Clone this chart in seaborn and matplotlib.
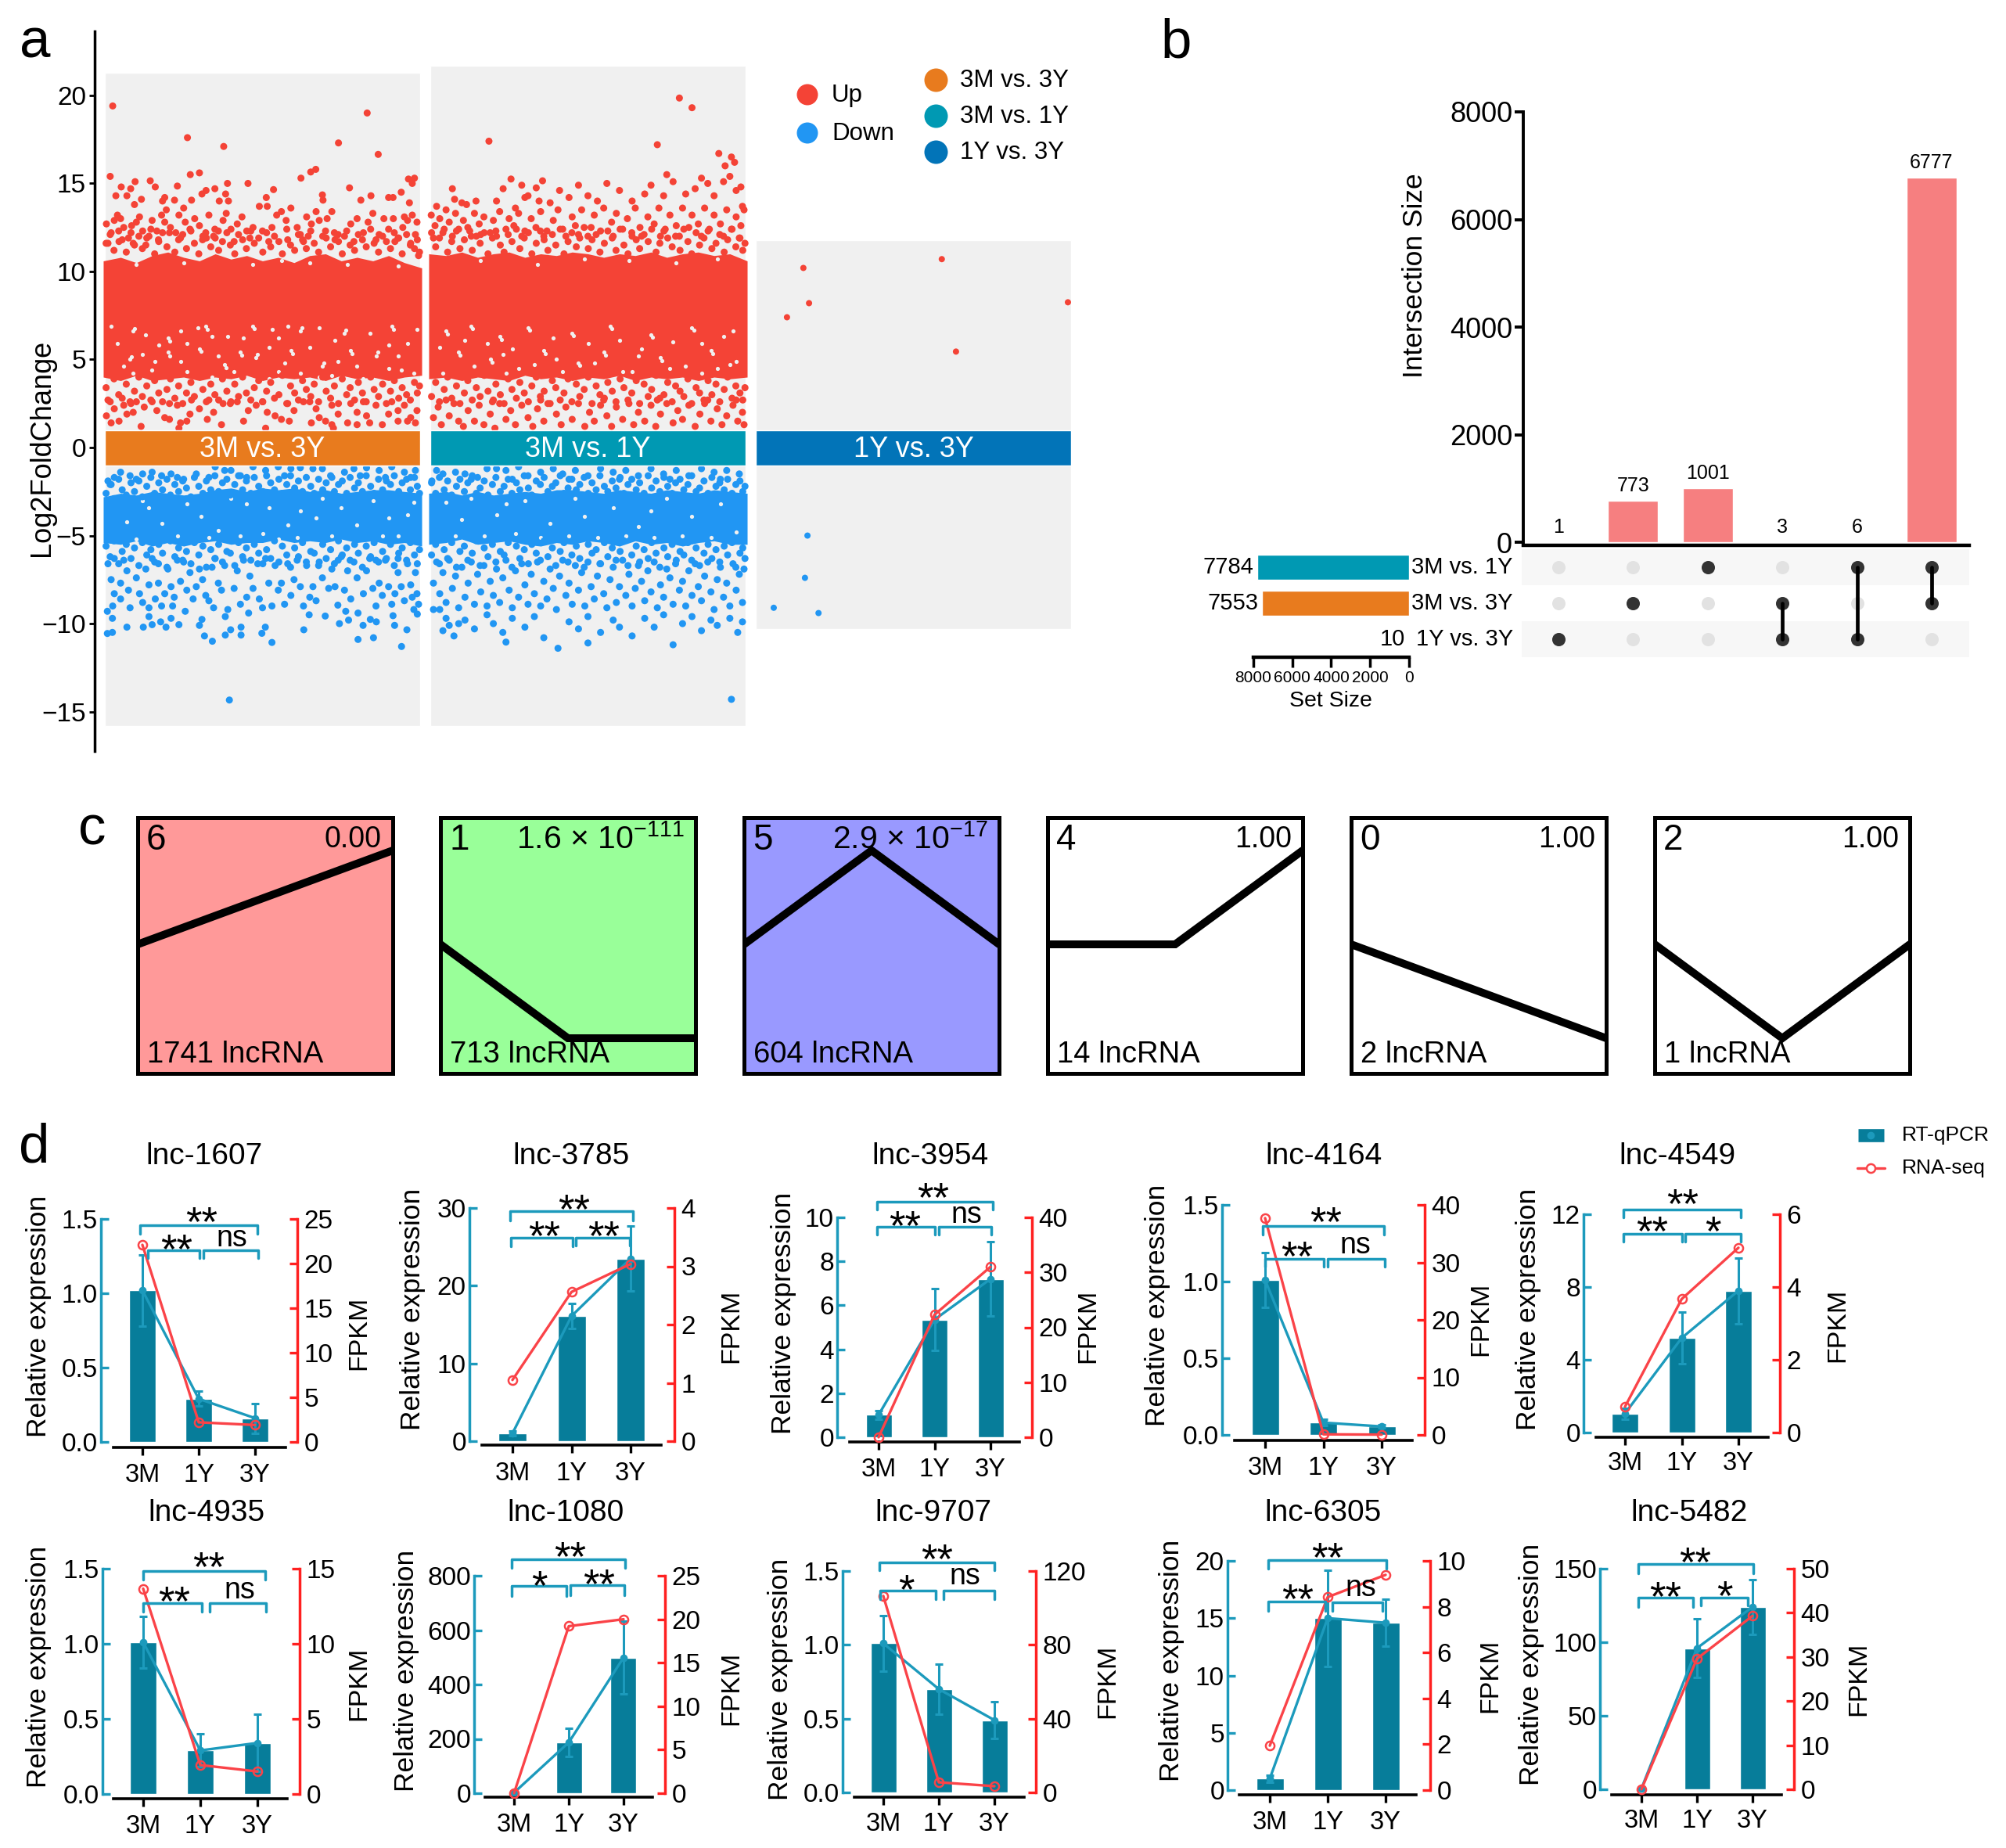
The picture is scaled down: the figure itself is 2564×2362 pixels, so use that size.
"""Multi-panel lncRNA figure: volcano strips, UpSet plot, STEM profiles, qPCR bars."""

import matplotlib
matplotlib.use('Agg')
import matplotlib.pyplot as plt
import numpy as np
import pandas as pd
import seaborn as sns

W, H = 2564, 2362
PT = 0.72  # points per pixel at dpi=100

RED_DOT = '#F44336'
BLUE_DOT = '#2196F3'
PANEL_GREY = '#F0F0F0'
ORANGE = '#E87B1E'
TEAL_STRIP = '#0099B3'
BLUE_STRIP = '#0274B8'
BAR_TEAL = '#077D9A'
LINE_TEAL = '#1C9ABC'
LINE_RED = '#FA4348'
AXIS_RED = '#FF2020'

# ---- panel a: contrasts ----
contrasts = ['3M vs. 3Y', '3M vs. 1Y', '1Y vs. 3Y']
contrast_colors = [ORANGE, TEAL_STRIP, BLUE_STRIP]
panel_tops = [21.3, 21.7, 11.76]
panel_bottoms = [-15.8, -15.8, -10.3]

# dense cores of the overplotted clouds, read along the width of each panel
env_u = [-0.005, 0.05, 0.1, 0.15, 0.2, 0.25, 0.3, 0.35, 0.4, 0.45, 0.5,
         0.55, 0.6, 0.65, 0.7, 0.75, 0.8, 0.85, 0.9, 0.95, 1.005]
up_hi_3y = [10.6, 10.8, 10.5, 10.9, 11.1, 10.8, 10.6, 11.0, 10.7, 10.9, 10.6,
            10.8, 10.5, 10.9, 11.0, 10.6, 10.8, 10.6, 10.9, 10.5, 10.2]
up_lo_3y = [4.0, 3.8, 4.1, 3.8, 3.9, 4.0, 3.8, 4.0, 3.9, 4.1, 3.8,
            4.0, 3.9, 4.0, 3.8, 4.1, 3.9, 4.0, 3.8, 4.0, 4.1]
up_hi_1y = [11.0, 10.9, 11.1, 10.8, 11.0, 11.1, 10.8, 11.0, 10.9, 11.1, 11.0,
            10.8, 11.0, 10.9, 11.1, 10.8, 11.0, 11.1, 10.9, 11.0, 10.6]
up_lo_1y = [3.9, 4.0, 3.8, 4.0, 3.9, 3.8, 4.1, 3.9, 4.0, 3.8, 4.0,
            3.9, 4.1, 3.8, 4.0, 3.9, 4.0, 3.8, 4.0, 3.9, 4.0]
dn_hi_3y = [-2.8, -2.6, -2.7, -2.5, -2.6, -2.7, -2.6, -2.4, -2.3, -2.5, -2.3,
            -2.4, -2.3, -2.5, -2.4, -2.6, -2.5, -2.4, -2.4, -2.5, -2.6]
dn_lo_3y = [-5.4, -5.5, -5.3, -5.6, -5.4, -5.6, -5.4, -5.3, -5.5, -5.4, -5.4,
            -5.2, -5.4, -5.3, -5.4, -5.2, -5.4, -5.3, -5.5, -5.4, -5.6]
dn_hi_1y = [-2.6, -2.5, -2.7, -2.5, -2.7, -2.6, -2.5, -2.6, -2.4, -2.4, -2.5,
            -2.6, -2.4, -2.5, -2.6, -2.4, -2.5, -2.6, -2.4, -2.5, -2.6]
dn_lo_1y = [-5.5, -5.4, -5.2, -5.5, -5.4, -5.3, -5.5, -5.6, -5.4, -5.5, -5.3,
            -5.4, -5.6, -5.3, -5.5, -5.4, -5.6, -5.4, -5.3, -5.5, -5.5]

# individual points, (position across the panel, log2 fold change)
up_top_3y = [
    (.025, 19.4), (.262, 17.6), (.377, 17.1), (.832, 19.0), (.741, 17.3), (.867, 16.65),
    (.017, 15.4), (.271, 15.5), (.300, 15.6), (.622, 15.3), (.653, 15.65), (.669, 15.8),
    (.963, 15.25), (.982, 15.3), (.975, 15.0), (.096, 15.1), (.144, 15.15), (.052, 14.8),
    (.082, 14.7), (.160, 14.8), (.230, 14.85), (.349, 14.7), (.389, 15.0), (.454, 15.0),
    (.535, 14.65), (.776, 14.75), (.035, 14.3), (.07, 14.3), (.116, 14.1), (.094, 13.8),
    (.19, 14.2), (.183, 14.0), (.221, 14.05), (.275, 14.05), (.308, 14.4), (.321, 14.6),
    (.383, 14.4), (.363, 14.0), (.392, 14.0), (.512, 14.2), (.69, 14.35), (.692, 14.05),
    (.844, 14.3), (.812, 14.05), (.9, 14.2), (.914, 14.2), (.94, 14.5), (.966, 13.9),
]
up_edge_3y = [
    (.005, 12.7), (.02, 12.2), (.03, 12.9), (.04, 13.2), (.05, 13.0), (.06, 12.5), (.075, 11.9),
    (.085, 12.6), (.10, 12.8), (.11, 13.1), (.12, 12.3), (.14, 12.0), (.15, 12.9), (.165, 12.3),
    (.18, 13.2), (.19, 12.8), (.195, 13.5), (.205, 12.2), (.225, 12.2), (.235, 13.2), (.25, 13.6),
    (.255, 12.8), (.27, 12.4), (.285, 13.0), (.30, 12.6), (.32, 12.2), (.33, 13.2), (.345, 12.0),
    (.36, 12.3), (.375, 12.9), (.385, 13.3), (.40, 12.4), (.42, 12.7), (.435, 13.1), (.45, 12.3),
    (.47, 12.5), (.49, 13.7), (.50, 12.3), (.515, 13.7), (.53, 12.5), (.545, 13.2), (.56, 13.4),
    (.575, 12.9), (.59, 13.6), (.61, 12.5), (.62, 12.1), (.64, 13.1), (.655, 12.7), (.645, 12.0),
    (.67, 13.4), (.68, 12.9), (.70, 12.3), (.705, 13.0), (.72, 13.4), (.74, 12.1), (.76, 12.0),
    (.78, 12.7), (.80, 13.0), (.82, 12.2), (.835, 12.8), (.85, 13.3), (.87, 12.1), (.885, 13.0),
    (.90, 12.4), (.915, 13.0), (.93, 11.9), (.945, 12.5), (.96, 12.9), (.975, 13.2), (.99, 12.8),
    (.985, 12.1), (.95, 13.1), (.01, 11.6), (.045, 11.7), (.09, 11.6), (.13, 11.5), (.17, 11.8),
    (.24, 11.9), (.31, 11.8), (.35, 11.9), (.41, 11.7), (.46, 11.9), (.52, 11.7), (.58, 11.8),
    (.63, 11.7), (.73, 11.8), (.79, 11.7), (.86, 11.8), (.92, 11.7), (.97, 11.6), (.995, 10.9),
]
up_low_3y = [
    (.005, 1.8), (.02, 1.4), (.03, 2.2), (.045, 1.5), (.06, 2.4), (.07, 1.9), (.09, 2.0), (.10, 2.6),
    (.115, 1.2), (.125, 2.3), (.165, 2.1), (.19, 1.7), (.205, 1.6), (.205, 2.5), (.235, 1.1),
    (.23, 2.4), (.24, 1.4), (.26, 1.5), (.27, 1.9), (.275, 2.7), (.30, 2.2), (.325, 1.6), (.345, 2.0),
    (.37, 1.3), (.375, 2.5), (.40, 2.6), (.44, 1.5), (.455, 2.1), (.48, 2.4), (.51, 1.1), (.515, 2.0),
    (.54, 1.8), (.56, 1.6), (.585, 1.5), (.58, 2.5), (.60, 2.1), (.63, 2.6), (.655, 1.4), (.67, 2.2),
    (.68, 1.7), (.70, 1.5), (.72, 2.4), (.72, 1.3), (.725, 1.1), (.74, 1.9), (.77, 1.4), (.78, 2.5),
    (.80, 1.3), (.80, 2.0), (.83, 1.8), (.84, 1.4), (.86, 2.4), (.88, 1.3), (.90, 1.9), (.93, 2.1),
    (.93, 1.5), (.95, 2.4), (.97, 1.7), (.985, 1.4), (.99, 2.1), (.96, 1.5), (.15, 2.6), (.33, 2.7),
    (.50, 2.6), (.65, 2.6), (.82, 2.6), (.91, 2.6), (.01, 2.7), (.08, 2.6), (.42, 2.6),
]
up_gap_3y = [
    (.09, 6.6), (.20, 6.2), (.32, 6.9), (.295, 6.8), (.47, 6.9), (.62, 6.6), (.68, 6.8), (.76, 6.5),
    (.91, 6.9), (.08, 5.0), (.20, 5.4), (.48, 5.1), (.30, 5.6), (.43, 5.4), (.59, 5.5), (.69, 4.6),
    (.78, 5.5), (.86, 5.2), (.09, 4.2), (.34, 4.0), (.52, 3.9), (.38, 4.7), (.26, 4.3), (.72, 4.1),
    (.82, 3.9), (.94, 4.4), (.62, 4.2), (.15, 4.4), (.41, 4.3), (.06, 4.6), (.55, 4.3), (.80, 4.6),
    (.90, 4.5), (.98, 4.2), (.68, 4.0), (.26, 5.9), (.55, 6.2), (.04, 5.9), (.96, 5.9), (.36, 5.2),
    (.10, 10.4), (.25, 10.5), (.47, 10.4), (.56, 10.6), (.65, 10.5), (.77, 10.4), (.93, 10.3),
    (.095, 6.75), (.205, 6.05), (.325, 6.7), (.475, 6.75), (.625, 6.8), (.765, 6.65), (.915, 6.7),
    (.085, 5.15), (.205, 5.2), (.485, 5.3), (.305, 5.45), (.435, 5.25), (.595, 5.35), (.695, 4.8),
    (.785, 5.35), (.865, 5.4), (.385, 4.55), (.13, 6.4), (.17, 5.8), (.24, 6.6), (.39, 6.3), (.53, 6.7),
    (.73, 6.1), (.84, 6.5), (.12, 5.3), (.24, 4.9), (.52, 5.7), (.65, 5.7), (.74, 4.9), (.90, 5.8),
    (.02, 6.9), (.99, 6.7), (.34, 6.3), (.58, 6.9), (.44, 6.2), (.16, 4.9), (.57, 4.8), (.93, 5.2),
]
up_top_1y = [
    (.186, 17.4), (.72, 17.2), (.79, 19.85), (.83, 19.3), (.915, 16.7), (.955, 16.5), (.935, 16.0),
    (.965, 16.2), (.07, 14.7), (.077, 14.1), (.231, 14.7), (.256, 15.25), (.29, 14.9), (.336, 14.75),
    (.356, 15.15), (.02, 13.7), (.05, 13.5), (.10, 13.9), (.115, 13.8), (.145, 14.0), (.21, 14.0),
    (.27, 13.6), (.30, 14.2), (.31, 14.3), (.345, 14.0), (.38, 13.9), (.41, 14.6), (.44, 14.2),
    (.47, 14.9), (.50, 14.3), (.53, 14.0), (.56, 15.0), (.60, 14.6), (.64, 14.0), (.68, 14.4),
    (.70, 14.9), (.74, 14.3), (.77, 15.1), (.81, 14.4), (.84, 14.7), (.86, 15.3), (.88, 15.0),
    (.90, 14.3), (.93, 15.1), (.97, 14.6), (.99, 13.7), (.985, 14.8), (.75, 15.5), (.95, 15.4),
]
up_edge_1y = [
    (.003, 13.2), (.015, 12.6), (.03, 13.0), (.04, 12.2), (.06, 12.8), (.08, 13.3), (.09, 12.4),
    (.105, 12.9), (.125, 12.3), (.14, 13.3), (.155, 12.7), (.17, 13.1), (.19, 12.2), (.20, 12.9),
    (.22, 13.4), (.24, 12.4), (.25, 13.0), (.265, 12.6), (.28, 13.3), (.30, 12.3), (.32, 13.0),
    (.335, 12.5), (.35, 13.4), (.37, 12.3), (.39, 12.9), (.405, 13.5), (.42, 12.4), (.45, 13.1),
    (.46, 12.6), (.48, 13.5), (.51, 12.5), (.52, 13.2), (.54, 12.3), (.55, 13.6), (.575, 12.8),
    (.59, 13.3), (.61, 12.4), (.625, 13.0), (.65, 13.6), (.665, 12.5), (.69, 13.1), (.71, 12.7),
    (.725, 13.6), (.745, 12.4), (.76, 13.2), (.78, 12.6), (.80, 13.6), (.82, 12.5), (.83, 13.2),
    (.85, 12.7), (.87, 13.6), (.885, 12.4), (.90, 13.2), (.92, 12.7), (.94, 13.5), (.955, 12.4),
    (.97, 13.1), (.985, 12.6), (.995, 13.5), (.01, 11.9), (.07, 12.0), (.13, 12.0), (.21, 12.0),
    (.29, 12.0), (.36, 12.0), (.43, 12.0), (.50, 12.0), (.58, 12.0), (.64, 12.0), (.73, 12.0),
    (.79, 12.0), (.86, 12.0), (.93, 12.0), (.98, 11.9), (.16, 12.1), (.47, 12.1), (.67, 12.0),
]
up_low_1y = [
    (.01, 1.7), (.025, 2.3), (.035, 1.3), (.06, 1.8), (.075, 2.5), (.09, 1.5), (.105, 1.2), (.12, 2.1),
    (.14, 1.5), (.155, 2.4), (.17, 1.3), (.19, 1.9), (.205, 1.1), (.22, 2.5), (.24, 1.6), (.255, 2.1),
    (.27, 1.3), (.29, 2.4), (.31, 1.7), (.325, 1.2), (.34, 2.2), (.36, 1.5), (.38, 2.5), (.40, 1.9),
    (.415, 1.3), (.43, 2.3), (.45, 1.6), (.47, 2.5), (.49, 1.2), (.505, 2.0), (.52, 1.5), (.54, 2.4),
    (.56, 1.8), (.575, 1.2), (.59, 2.3), (.61, 1.6), (.63, 2.5), (.645, 1.3), (.66, 2.0), (.68, 1.5),
    (.70, 2.4), (.715, 1.2), (.73, 1.9), (.75, 2.5), (.77, 1.4), (.785, 2.1), (.80, 1.6), (.82, 2.4),
    (.84, 1.2), (.855, 1.9), (.87, 2.5), (.89, 1.5), (.91, 2.2), (.925, 1.3), (.94, 1.8), (.96, 2.4),
    (.975, 1.5), (.99, 2.0), (.995, 1.3), (.05, 2.7), (.20, 2.7), (.35, 2.7), (.55, 2.7), (.72, 2.7),
    (.88, 2.7), (.97, 2.7),
]
up_gap_1y = [
    (.05, 6.6), (.13, 6.9), (.22, 6.3), (.31, 6.8), (.45, 6.5), (.57, 6.9), (.70, 6.4), (.83, 6.8),
    (.93, 6.3), (.09, 5.4), (.19, 5.0), (.28, 4.5), (.36, 5.5), (.47, 4.8), (.55, 5.4), (.64, 4.3),
    (.73, 5.1), (.81, 4.6), (.89, 5.5), (.97, 4.9), (.04, 4.2), (.14, 4.6), (.24, 4.2), (.33, 4.7),
    (.42, 4.3), (.52, 4.8), (.61, 4.3), (.76, 4.5), (.86, 4.2), (.95, 4.7), (.16, 10.6), (.34, 10.4),
    (.49, 10.7), (.63, 10.6), (.78, 10.5), (.91, 10.7), (.055, 6.45), (.135, 6.75), (.225, 6.15),
    (.315, 6.65), (.455, 6.35), (.575, 6.75), (.705, 6.25), (.835, 6.65), (.095, 5.25), (.195, 4.85),
    (.365, 5.35), (.475, 4.65), (.555, 5.25), (.735, 4.95), (.895, 5.35), (.03, 5.7), (.11, 6.1),
    (.18, 5.9), (.26, 5.6), (.39, 6.2), (.50, 5.9), (.60, 6.1), (.67, 5.6), (.77, 6.0), (.86, 5.9),
    (.96, 6.6), (.40, 5.0), (.66, 5.2), (.23, 5.3), (.91, 4.5),
]
dn_top_3y = [
    (.01, -1.9), (.03, -1.7), (.05, -1.4), (.08, -1.6), (.12, -1.5), (.15, -1.4), (.18, -1.6), (.21, -1.5),
    (.25, -1.8), (.29, -1.5), (.35, -1.1), (.38, -1.3), (.40, -1.3), (.45, -1.7), (.47, -1.1), (.51, -1.3),
    (.55, -1.1), (.59, -1.2), (.62, -1.15), (.66, -1.2), (.69, -1.2), (.76, -1.4), (.79, -1.2), (.83, -1.15),
    (.87, -1.3), (.91, -1.1), (.95, -1.4), (.985, -1.3), (.02, -2.1), (.10, -1.8), (.23, -1.7), (.33, -1.7),
    (.43, -1.6), (.57, -1.6), (.72, -1.7), (.81, -1.6), (.89, -1.7), (.97, -1.7),
]
dn_mid_3y = [
    (.01, -6.6), (.03, -6.3), (.02, -7.5), (.03, -8.3), (.025, -9.0), (.05, -7.7), (.05, -8.6), (.07, -7.0),
    (.075, -8.1), (.08, -9.1), (.10, -7.4), (.11, -8.3), (.12, -8.8), (.13, -6.9), (.14, -7.8), (.14, -9.1),
    (.16, -8.6), (.17, -6.6), (.17, -7.7), (.18, -9.0), (.19, -8.3), (.20, -6.9), (.21, -7.9), (.215, -9.0),
    (.22, -8.5), (.24, -7.6), (.25, -6.5), (.26, -8.1), (.27, -7.1), (.28, -8.6), (.29, -7.9), (.30, -6.9),
    (.31, -7.5), (.32, -8.4), (.33, -8.7), (.34, -6.8), (.345, -9.1), (.36, -7.7), (.37, -8.1), (.38, -6.7),
    (.39, -9.2), (.41, -8.0), (.42, -7.0), (.43, -8.9), (.44, -6.4), (.45, -8.5), (.46, -7.3), (.47, -8.0),
    (.485, -6.6), (.49, -8.6), (.50, -9.1), (.52, -7.7), (.53, -9.0), (.54, -6.7), (.55, -8.1), (.56, -7.7),
    (.57, -8.9), (.58, -6.6), (.59, -8.4), (.60, -7.5), (.62, -7.9), (.63, -9.0), (.64, -6.7), (.65, -8.5),
    (.66, -7.9), (.67, -8.7), (.68, -6.5), (.69, -7.4), (.71, -8.0), (.72, -6.9), (.73, -7.9), (.75, -6.2),
    (.76, -8.1), (.77, -7.0), (.78, -8.6), (.79, -6.5), (.80, -7.4), (.82, -8.3), (.83, -7.0), (.84, -6.3),
    (.85, -8.0), (.86, -9.0), (.87, -7.7), (.88, -8.4), (.89, -6.4), (.90, -7.9), (.91, -8.9), (.92, -8.3),
    (.93, -7.1), (.94, -7.9), (.95, -8.7), (.96, -6.6), (.97, -7.8), (.98, -9.2), (.985, -7.1), (.99, -8.3),
    (.995, -8.9), (.975, -8.5), (.06, -6.4), (.15, -6.3), (.23, -6.4), (.35, -6.3), (.51, -6.3), (.61, -6.4),
    (.74, -6.4), (.86, -6.4), (.93, -6.3),
]
dn_deep_3y = [
    (.008, -9.3), (.024, -9.7), (.008, -10.56), (.024, -10.5), (.07, -10.2), (.122, -10.2), (.15, -10.06),
    (.14, -9.6), (.177, -9.9), (.194, -10.2), (.21, -9.7), (.235, -10.06), (.255, -9.3), (.30, -10.1),
    (.308, -9.76), (.316, -10.7), (.341, -11.0), (.382, -10.65), (.399, -10.35), (.432, -10.65), (.432, -10.2),
    (.382, -9.6), (.456, -9.4), (.498, -10.55), (.509, -10.2), (.53, -11.07), (.631, -10.35), (.648, -9.5),
    (.699, -9.57), (.739, -8.95), (.744, -10.0), (.773, -9.8), (.803, -10.9), (.819, -10.1), (.852, -10.8),
    (.842, -9.76), (.861, -9.9), (.919, -10.1), (.914, -9.55), (.941, -11.3), (.958, -10.35), (.991, -9.46),
    (.395, -14.34), (.803, -9.4), (.764, -9.3),
]
dn_gap_3y = [
    (.12, -3.0), (.26, -3.2), (.18, -4.3), (.10, -5.2), (.45, -3.2), (.62, -3.6), (.67, -4.0), (.50, -4.9),
    (.33, -5.1), (.43, -5.0), (.55, -5.2), (.72, -5.0), (.80, -4.4), (.90, -4.0), (.96, -3.8),
    (.85, -3.0), (.36, -4.7), (.23, -5.0), (.14, -3.4), (.61, -5.1), (.93, -5.0), (.40, -2.9),
    (.69, -2.9), (.88, -5.0), (.98, -3.1), (.305, -3.9), (.52, -3.4), (.75, -3.4), (.07, -4.2), (.58, -4.4),
]
dn_top_1y = [
    (.02, -1.3), (.04, -1.5), (.08, -1.4), (.11, -1.5), (.15, -1.7), (.18, -1.2), (.21, -1.2), (.24, -1.3),
    (.28, -1.1), (.31, -1.6), (.35, -1.4), (.39, -1.2), (.42, -1.5), (.46, -1.3), (.50, -1.6), (.54, -1.2),
    (.58, -1.4), (.62, -1.3), (.66, -1.6), (.70, -1.2), (.74, -1.5), (.78, -1.3), (.82, -1.6), (.86, -1.2),
    (.90, -1.4), (.94, -1.3), (.98, -1.5), (.005, -1.9), (.13, -1.8), (.26, -1.8), (.44, -1.8), (.60, -1.8),
    (.76, -1.8), (.92, -1.8),
]
dn_mid_1y = [
    (.01, -7.7), (.02, -6.5), (.03, -8.3), (.04, -7.1), (.05, -8.8), (.06, -6.4), (.07, -8.0), (.08, -7.3),
    (.09, -9.1), (.10, -6.8), (.11, -8.5), (.12, -7.7), (.13, -6.5), (.14, -8.9), (.15, -7.2), (.16, -8.2),
    (.17, -6.7), (.18, -9.0), (.19, -7.6), (.20, -8.4), (.21, -6.9), (.22, -8.8), (.23, -7.4), (.24, -6.4),
    (.25, -8.1), (.26, -9.1), (.27, -7.0), (.28, -8.5), (.29, -6.6), (.30, -7.8), (.31, -8.9), (.32, -7.2),
    (.33, -8.3), (.34, -6.5), (.35, -9.0), (.36, -7.6), (.37, -8.6), (.38, -6.9), (.39, -8.0), (.40, -9.2),
    (.41, -7.3), (.42, -6.4), (.43, -8.4), (.44, -7.7), (.45, -8.9), (.46, -6.7), (.47, -8.1), (.48, -7.1),
    (.49, -9.0), (.50, -6.5), (.51, -7.9), (.52, -8.6), (.53, -7.3), (.54, -6.6), (.55, -8.3), (.56, -9.1),
    (.57, -7.5), (.58, -6.8), (.59, -8.8), (.60, -7.9), (.61, -6.4), (.62, -8.4), (.63, -7.2), (.64, -9.0),
    (.65, -8.0), (.66, -6.7), (.67, -7.6), (.68, -8.7), (.69, -7.0), (.70, -8.2), (.71, -6.5), (.72, -9.1),
    (.73, -7.8), (.74, -8.5), (.75, -6.9), (.76, -7.4), (.77, -8.9), (.78, -6.4), (.79, -8.1), (.80, -7.6),
    (.81, -9.0), (.82, -7.0), (.83, -8.4), (.84, -6.6), (.85, -7.9), (.86, -8.7), (.87, -7.3), (.88, -6.5),
    (.89, -8.2), (.90, -9.2), (.91, -7.5), (.92, -6.8), (.93, -8.5), (.94, -7.7), (.95, -9.0), (.96, -6.6),
    (.97, -8.1), (.98, -7.2), (.99, -8.8), (.995, -6.9),
]
dn_deep_1y = [
    (.01, -9.2), (.03, -9.2), (.05, -9.7), (.04, -10.4), (.06, -10.1), (.09, -10.0), (.075, -10.7),
    (.11, -9.8), (.14, -10.3), (.18, -9.5), (.20, -10.0), (.23, -10.5), (.26, -9.7), (.24, -11.05),
    (.30, -10.2), (.33, -9.6), (.36, -10.8), (.405, -11.4), (.44, -9.9), (.47, -10.3), (.50, -9.6),
    (.54, -10.5), (.58, -9.8), (.60, -10.2), (.64, -10.7), (.68, -9.7), (.71, -10.2), (.74, -9.5),
    (.77, -11.2), (.80, -10.0), (.83, -9.6), (.86, -10.4), (.89, -9.8), (.91, -10.1), (.95, -9.7),
    (.975, -10.5), (.99, -9.9), (.955, -14.3), (.50, -11.1),
]
dn_gap_1y = [
    (.05, -3.1), (.13, -2.9), (.21, -3.8), (.30, -3.0), (.38, -4.3), (.46, -2.9), (.58, -3.4), (.66, -4.5),
    (.75, -2.9), (.83, -3.9), (.92, -3.2), (.08, -5.0), (.17, -5.0), (.27, -4.9), (.35, -5.1), (.44, -5.0),
    (.53, -5.1), (.62, -5.0), (.71, -5.1), (.80, -5.0), (.89, -5.1), (.97, -4.8), (.10, -4.1), (.49, -3.9),
    (.70, -3.6), (.24, -3.2),
]
up_sparse_3 = [(.151, 10.2), (.59, 10.7), (.169, 8.2), (.099, 7.4), (.99, 8.25), (.635, 5.45)]
dn_sparse_3 = [(.164, -5.0), (.156, -7.4), (.057, -9.1), (.199, -9.4)]

# the rims of the dense cores: shared positions, one list of values per rim
rim_u = [.004, .017, .029, .044, .055, .068, .083, .094, .108, .119, .133, .146, .158, .171, .183, .197,
         .208, .222, .234, .247, .259, .273, .284, .298, .311, .322, .336, .349, .361, .373, .387, .398,
         .412, .424, .437, .449, .463, .474, .488, .501, .513, .526, .538, .552, .563, .577, .589, .602,
         .614, .627, .639, .653, .664, .678, .691, .702, .716, .728, .741, .753, .767, .778, .792, .804,
         .817, .829, .843, .854, .868, .881, .893, .906, .918, .932, .943, .957, .969, .982, .991, .998]
rim_up_top_3y = [
    11.6, 12.1, 11.2, 12.3, 11.8, 11.1, 12.2, 11.5, 12.0, 11.3, 11.9, 12.4, 11.0, 11.7, 12.2, 11.4,
    12.5, 11.1, 11.8, 12.1, 11.3, 12.3, 11.6, 11.0, 12.0, 11.9, 11.4, 12.4, 11.2, 11.7, 12.2, 11.5,
    11.0, 12.1, 11.8, 11.3, 12.3, 11.6, 11.9, 11.1, 12.2, 11.4, 12.0, 11.7, 11.0, 12.4, 11.5, 11.2,
    12.1, 11.8, 11.3, 12.3, 11.6, 11.1, 12.0, 11.9, 11.4, 12.2, 11.7, 11.0, 12.3, 11.5, 11.2, 12.1,
    11.8, 11.4, 12.4, 11.6, 11.1, 12.0, 11.7, 11.3, 12.2, 11.9, 11.0, 12.1, 11.5, 11.3, 11.8, 11.1]
rim_up_top_1y = [
    12.2, 11.4, 11.9, 12.4, 11.1, 11.7, 12.3, 11.3, 11.8, 12.5, 11.2, 12.0, 11.6, 12.2, 11.0, 11.9,
    12.3, 11.5, 11.1, 12.1, 11.7, 12.4, 11.3, 11.9, 12.2, 11.0, 11.6, 12.3, 11.8, 11.2, 12.1, 11.5,
    12.4, 11.0, 11.7, 12.2, 11.4, 11.9, 12.5, 11.3, 11.8, 12.1, 11.1, 11.6, 12.3, 11.9, 11.2, 12.4,
    11.5, 11.0, 12.2, 11.8, 11.3, 12.1, 11.7, 12.4, 11.1, 11.6, 12.3, 11.9, 11.4, 12.0, 11.2, 12.4,
    11.7, 11.0, 12.2, 11.5, 11.9, 12.3, 11.3, 11.6, 12.1, 11.1, 11.8, 12.4, 11.4, 11.9, 11.2, 11.6]
rim_up_low_3y = [
    3.4, 2.6, 3.9, 3.0, 2.8, 3.6, 2.5, 3.2, 4.0, 2.9, 3.5, 2.7, 3.8, 3.1, 2.6, 3.3,
    3.9, 2.8, 3.5, 2.5, 3.1, 3.7, 2.9, 4.1, 3.3, 2.6, 3.6, 3.0, 2.7, 3.9, 3.2, 2.5,
    3.6, 2.9, 4.0, 3.1, 2.7, 3.4, 3.8, 2.6, 3.2, 3.7, 2.8, 3.0, 4.1, 2.5, 3.5, 3.1,
    2.7, 3.8, 3.3, 2.9, 3.6, 2.6, 4.0, 3.2, 2.8, 3.5, 2.5, 3.9, 3.0, 3.4, 2.7, 3.7,
    3.1, 2.6, 4.0, 3.3, 2.9, 3.6, 2.5, 3.2, 3.8, 2.8, 3.4, 3.0, 2.7, 3.7, 3.1, 3.5]
rim_up_low_1y = [
    2.9, 3.7, 2.6, 3.3, 4.0, 2.8, 3.5, 2.5, 3.1, 3.8, 2.7, 3.4, 2.9, 4.1, 3.2, 2.6,
    3.6, 3.0, 2.5, 3.9, 3.3, 2.8, 3.7, 3.1, 2.6, 3.5, 4.0, 2.9, 3.2, 2.5, 3.8, 3.4,
    2.7, 3.1, 3.9, 2.6, 3.6, 2.9, 3.3, 4.0, 2.5, 3.5, 3.0, 2.8, 3.7, 3.2, 2.6, 3.9,
    3.4, 2.7, 3.1, 3.8, 2.5, 3.6, 2.9, 3.3, 4.1, 2.8, 3.0, 3.7, 2.6, 3.5, 3.2, 2.9,
    3.9, 2.5, 3.4, 3.1, 2.7, 3.8, 3.0, 3.6, 2.6, 3.3, 4.0, 2.8, 3.5, 3.1, 2.7, 3.4]
rim_dn_top_3y = [
    -2.6, -2.1, -2.9, -1.8, -2.4, -2.7, -2.0, -2.5, -1.9, -2.8, -2.2, -1.7, -2.6, -2.0, -2.4, -1.8,
    -2.7, -2.1, -2.5, -1.9, -2.3, -2.8, -1.7, -2.2, -2.6, -1.9, -2.4, -1.6, -2.5, -2.0, -1.8, -2.7,
    -2.1, -1.6, -2.4, -1.9, -2.6, -1.7, -2.2, -2.5, -1.6, -2.0, -2.4, -1.8, -2.6, -2.1, -1.6, -2.3,
    -1.9, -2.5, -1.7, -2.2, -2.6, -1.8, -2.4, -2.0, -1.6, -2.5, -2.1, -1.9, -2.6, -1.7, -2.3, -2.0,
    -2.5, -1.6, -2.2, -2.6, -1.8, -2.4, -1.9, -2.1, -1.6, -2.5, -2.0, -1.8, -2.4, -1.7, -2.2, -2.6]
rim_dn_top_1y = [
    -2.0, -2.6, -1.7, -2.4, -1.9, -2.7, -2.2, -1.8, -2.5, -2.0, -1.6, -2.6, -2.3, -1.9, -2.7, -2.1,
    -1.7, -2.5, -2.2, -1.8, -2.6, -2.0, -2.4, -1.6, -2.3, -2.7, -1.9, -2.1, -1.7, -2.5, -2.2, -2.0,
    -1.6, -2.6, -2.3, -1.8, -2.4, -2.1, -1.7, -2.6, -2.0, -2.4, -1.6, -2.2, -2.5, -1.9, -2.3, -1.7,
    -2.6, -2.1, -1.8, -2.4, -2.0, -2.6, -1.6, -2.3, -1.9, -2.5, -1.7, -2.2, -2.6, -2.0, -1.8, -2.4,
    -2.1, -1.6, -2.5, -2.3, -1.9, -2.6, -1.7, -2.2, -2.0, -2.4, -1.8, -2.6, -2.1, -1.9, -2.5, -2.2]
rim_dn_low_3y = [
    -5.6, -6.2, -5.3, -6.6, -5.9, -5.5, -6.3, -5.7, -6.7, -5.4, -6.1, -5.8, -6.5, -5.5, -6.0, -6.8,
    -5.3, -6.2, -5.7, -6.4, -5.9, -6.6, -5.4, -6.1, -5.6, -6.8, -5.8, -6.3, -5.5, -6.5, -5.9, -6.0,
    -6.7, -5.4, -6.2, -5.7, -6.4, -5.5, -6.0, -6.6, -5.8, -6.3, -5.3, -6.5, -5.6, -6.1, -6.8, -5.7,
    -6.2, -5.4, -6.5, -5.9, -6.0, -6.7, -5.5, -6.3, -5.8, -6.6, -5.3, -6.1, -5.7, -6.4, -5.5, -6.0,
    -6.8, -5.6, -6.2, -5.4, -6.5, -5.9, -6.3, -5.5, -6.7, -6.0, -5.7, -6.4, -5.4, -6.1, -6.6, -5.8]
rim_dn_low_1y = [
    -6.1, -5.5, -6.6, -5.8, -6.3, -5.4, -6.8, -5.9, -5.6, -6.4, -6.0, -5.3, -6.7, -5.7, -6.2, -5.5,
    -6.5, -5.9, -6.1, -5.4, -6.8, -5.6, -6.3, -5.8, -6.6, -5.5, -6.0, -6.4, -5.3, -6.2, -5.7, -6.7,
    -5.9, -5.4, -6.5, -6.1, -5.6, -6.3, -6.8, -5.5, -6.0, -5.8, -6.6, -5.4, -6.2, -5.7, -6.4, -5.9,
    -5.3, -6.7, -6.1, -5.6, -6.5, -5.8, -6.3, -5.4, -6.0, -6.8, -5.7, -6.2, -5.5, -6.6, -5.9, -6.1,
    -5.4, -6.4, -5.7, -6.7, -6.0, -5.5, -6.3, -5.8, -6.5, -5.6, -6.1, -5.4, -6.8, -6.0, -5.7, -6.3]

# ---- panel b: UpSet ----
set_names = ['3M vs. 1Y', '3M vs. 3Y', '1Y vs. 3Y']
set_sizes = [7784, 7553, 10]
set_colors = [TEAL_STRIP, ORANGE, 'white']
intersection_ids = ['i1', 'i2', 'i3', 'i4', 'i5', 'i6']
intersection_sizes = [1, 773, 1001, 3, 6, 6777]
intersection_rows = [[2], [1], [0], [1, 2], [0, 2], [0, 1]]

# ---- panel c: STEM profiles ----
profile_ids = ['6', '1', '5', '4', '0', '2']
profile_pvals = ['0.00', '1.6 × 10$^{-111}$', '2.9 × 10$^{-17}$', '1.00', '1.00', '1.00']
profile_counts = ['1741 lncRNA', '713 lncRNA', '604 lncRNA', '14 lncRNA', '2 lncRNA', '1 lncRNA']
profile_colors = ['#FF9999', '#99FF99', '#9999FF', 'white', 'white', 'white']
profile_6 = [0, 1, 2]
profile_1 = [0, -2, -2]
profile_5 = [0, 2, 0]
profile_4 = [0, 0, 2]
profile_0 = [0, -1, -2]
profile_2 = [0, -2, 0]
profiles = [profile_6, profile_1, profile_5, profile_4, profile_0, profile_2]
profile_left_px = [176, 563, 951, 1339, 1727, 2115]

# ---- panel d: expression ----
stages = ['3M', '1Y', '3Y']
qpcr_1607, err_1607, fpkm_1607 = [1.02, 0.29, 0.16], [0.24, 0.05, 0.10], [22.1, 2.2, 1.9]
qpcr_3785, err_3785, fpkm_3785 = [1.0, 16.1, 23.5], [0.3, 1.6, 4.15], [1.05, 2.56, 3.04]
qpcr_3954, err_3954, fpkm_3954 = [1.02, 5.35, 7.2], [0.2, 1.4, 1.7], [0.0, 22.3, 31.0]
qpcr_4164, err_4164, fpkm_4164 = [1.01, 0.08, 0.055], [0.18, 0.02, 0.01], [37.7, 0.1, 0.05]
qpcr_4549, err_4549, fpkm_4549 = [1.05, 5.2, 7.8], [0.3, 1.43, 1.8], [0.71, 3.67, 5.08]
qpcr_4935, err_4935, fpkm_4935 = [1.01, 0.29, 0.34], [0.17, 0.11, 0.19], [13.67, 1.93, 1.5]
qpcr_1080, err_1080, fpkm_1080 = [2, 187, 499], [2, 52, 134], [0.0, 19.2, 20.0]
qpcr_9707, err_9707, fpkm_9707 = [1.01, 0.70, 0.49], [0.19, 0.17, 0.125], [106.5, 5.5, 3.4]
qpcr_6305, err_6305, fpkm_6305 = [1.0, 15.0, 14.6], [0.3, 4.2, 2.05], [1.94, 8.42, 9.39]
qpcr_5482, err_5482, fpkm_5482 = [0.5, 96, 124], [1, 20, 18.7], [0.0, 29.6, 39.3]

# pixel layout of each small chart; brackets are (x0, x1, y, leg), marks are (text, x, y)
d_panels = [
    dict(title='lnc-1607', q=qpcr_1607, e=err_1607, f=fpkm_1607, xl=129, xr=380, top=1558, zero=1843, base=1850,
         xb=(145, 365), ticks=(182, 326), barw=34, lticks=['0.0', '0.5', '1.0', '1.5'], rticks=[0, 5, 10, 15, 20, 25],
         tx=261, ty=1478, rel=(50, 1682), fp=(459, 1704), laby=1882,
         brackets=[(179, 329, 1566, 11), (189, 255, 1598, 10), (260, 330, 1598, 10)],
         marks=[('**', 258, 1548), ('**', 226, 1583), ('ns', 296, 1583)]),
    dict(title='lnc-3785', q=qpcr_3785, e=err_3785, f=fpkm_3785, xl=600, xr=862, top=1544, zero=1842, base=1847,
         xb=(616, 845), ticks=(655, 806), barw=36, lticks=['0', '10', '20', '30'], rticks=[0, 1, 2, 3, 4],
         tx=730, ty=1478, rel=(527, 1673), fp=(935, 1695), laby=1880,
         brackets=[(652, 809, 1548, 12), (653, 732, 1582, 11), (736, 805, 1582, 10)],
         marks=[('**', 734, 1532), ('**', 696, 1566), ('**', 772, 1566)]),
    dict(title='lnc-3954', q=qpcr_3954, e=err_3954, f=fpkm_3954, xl=1070, xr=1319, top=1556, zero=1837, base=1843,
         xb=(1086, 1303), ticks=(1123, 1266), barw=33, lticks=['0', '2', '4', '6', '8', '10'], rticks=[0, 10, 20, 30, 40],
         tx=1189, ty=1478, rel=(1002, 1678), fp=(1391, 1695), laby=1875,
         brackets=[(1121, 1269, 1536, 10), (1121, 1195, 1568, 10), (1200, 1267, 1568, 10)],
         marks=[('**', 1193, 1517), ('**', 1157, 1553), ('ns', 1235, 1553)]),
    dict(title='lnc-4164', q=qpcr_4164, e=err_4164, f=fpkm_4164, xl=1562, xr=1821, top=1540, zero=1834, base=1841,
         xb=(1578, 1805), ticks=(1617, 1766), barw=35, lticks=['0.0', '0.5', '1.0', '1.5'], rticks=[0, 10, 20, 30, 40],
         tx=1692, ty=1478, rel=(1480, 1668), fp=(1893, 1686), laby=1873,
         brackets=[(1614, 1769, 1567, 11), (1617, 1692, 1609, 10), (1697, 1770, 1609, 10)],
         marks=[('**', 1695, 1548), ('**', 1658, 1592), ('ns', 1732, 1592)]),
    dict(title='lnc-4549', q=qpcr_4549, e=err_4549, f=fpkm_4549, xl=2024, xr=2275, top=1552, zero=1831, base=1837,
         xb=(2040, 2260), ticks=(2077, 2222), barw=34, lticks=['0', '4', '8', '12'], rticks=[0, 2, 4, 6],
         tx=2144, ty=1478, rel=(1954, 1673), fp=(2349, 1694), laby=1867,
         brackets=[(2075, 2225, 1546, 10), (2075, 2150, 1577, 10), (2154, 2225, 1577, 10)],
         marks=[('**', 2151, 1525), ('**', 2112, 1560), ('*', 2189, 1560)]),
    dict(title='lnc-4935', q=qpcr_4935, e=err_4935, f=fpkm_4935, xl=131, xr=383, top=2005, zero=2293, base=2299,
         xb=(145, 367), ticks=(183, 329), barw=34, lticks=['0.0', '0.5', '1.0', '1.5'], rticks=[0, 5, 10, 15],
         tx=264, ty=1934, rel=(50, 2130), fp=(459, 2152), laby=2331,
         brackets=[(183, 339, 2008, 11), (183, 258, 2049, 11), (268, 340, 2049, 11)],
         marks=[('**', 267, 1989), ('**', 223, 2033), ('ns', 306, 2033)]),
    dict(title='lnc-1080', q=qpcr_1080, e=err_1080, f=fpkm_1080, xl=606, xr=850, top=2014, zero=2292, base=2297,
         xb=(620, 834), ticks=(657, 797), barw=33, lticks=['0', '200', '400', '600', '800'], rticks=[0, 5, 10, 15, 20, 25],
         tx=723, ty=1934, rel=(520, 2135), fp=(935, 2158), laby=2329,
         brackets=[(654, 799, 1993, 11), (654, 724, 2027, 13), (729, 798, 2026, 13)],
         marks=[('**', 729, 1976), ('*', 689, 2013), ('**', 766, 2011)]),
    dict(title='lnc-9707', q=qpcr_9707, e=err_9707, f=fpkm_9707, xl=1077, xr=1324, top=2008, zero=2291, base=2297,
         xb=(1092, 1309), ticks=(1129, 1271), barw=33, lticks=['0.0', '0.5', '1.0', '1.5'], rticks=[0, 40, 80, 120],
         tx=1193, ty=1934, rel=(998, 2146), fp=(1416, 2149), laby=2328,
         brackets=[(1124, 1271, 1997, 10), (1125, 1196, 2033, 11), (1206, 1271, 2033, 11)],
         marks=[('**', 1198, 1979), ('*', 1158, 2018), ('ns', 1233, 2015)]),
    dict(title='lnc-6305', q=qpcr_6305, e=err_6305, f=fpkm_6305, xl=1569, xr=1828, top=1995, zero=2288, base=2294,
         xb=(1584, 1810), ticks=(1623, 1771), barw=35, lticks=['0', '5', '10', '15', '20'], rticks=[0, 2, 4, 6, 8, 10],
         tx=1691, ty=1934, rel=(1497, 2122), fp=(1905, 2142), laby=2326,
         brackets=[(1621, 1772, 1994, 11), (1621, 1694, 2047, 12), (1703, 1767, 2048, 11)],
         marks=[('**', 1697, 1977), ('**', 1659, 2030), ('ns', 1739, 2030)]),
    dict(title='lnc-5482', q=qpcr_5482, e=err_5482, f=fpkm_5482, xl=2045, xr=2293, top=2005, zero=2287, base=2294,
         xb=(2060, 2277), ticks=(2098, 2240), barw=33, lticks=['0', '50', '100', '150'], rticks=[0, 10, 20, 30, 40, 50],
         tx=2159, ty=1934, rel=(1958, 2127), fp=(2376, 2146), laby=2324,
         brackets=[(2094, 2241, 1999, 12), (2094, 2164, 2042, 12), (2174, 2234, 2042, 10)],
         marks=[('**', 2167, 1983), ('**', 2129, 2027), ('*', 2204, 2026)]),
]
d_ymax = [(1.5, 25), (30, 4), (10, 40), (1.5, 40), (12, 6), (1.5, 15), (800, 25), (1.5, 120), (20, 10), (150, 50)]


def px_axes(fig, x0, y0, x1, y1):
    """Axes placed by pixel box, y counted from the top of the image."""
    return fig.add_axes([x0 / W, 1 - y1 / H, (x1 - x0) / W, (y1 - y0) / H])


def pairs_frame(pairs, group, direction=None):
    """Turn (position, value) pairs of one panel into plotting coordinates."""
    u, v = zip(*pairs)
    x = group + (np.array(u) - 0.5) * 0.9688
    return pd.DataFrame({'x': x, 'y': v, 'direction': direction})


def draw_panel_a(fig, ov):
    ax = px_axes(fig, 121, 40, 1380, 960)
    groups = [0, 1, 2]
    ax.bar(groups, np.array(panel_tops) - np.array(panel_bottoms), bottom=panel_bottoms,
           width=0.9688, color=PANEL_GREY, zorder=1)
    ax.bar(groups, 2, bottom=-1, width=0.9688, color=contrast_colors, zorder=6)
    for g, label in zip(groups, contrasts):
        ax.text(g, -0.1, label, color='white', fontsize=26, ha='center', va='center', zorder=7)

    palette = {'Up': RED_DOT, 'Down': BLUE_DOT}
    env = np.array(env_u)
    for g, uh, ul, dh, dl in [(0, up_hi_3y, up_lo_3y, dn_hi_3y, dn_lo_3y),
                              (1, up_hi_1y, up_lo_1y, dn_hi_1y, dn_lo_1y)]:
        ex = g + (env - 0.5) * 0.9688
        ax.fill_between(ex, ul, uh, color=RED_DOT, linewidth=0, zorder=2)
        ax.fill_between(ex, dl, dh, color=BLUE_DOT, linewidth=0, zorder=2)

    gaps = pd.concat([pairs_frame(up_gap_3y, 0), pairs_frame(dn_gap_3y, 0),
                      pairs_frame(up_gap_1y, 1), pairs_frame(dn_gap_1y, 1)])
    sns.scatterplot(data=gaps, x='x', y='y', color=PANEL_GREY, s=14, linewidth=0, ax=ax, zorder=3)

    dots = pd.concat([
        pairs_frame(up_top_3y + up_edge_3y + up_low_3y + list(zip(rim_u, rim_up_top_3y))
                    + list(zip(rim_u, rim_up_low_3y)), 0, 'Up'),
        pairs_frame(dn_top_3y + dn_mid_3y + dn_deep_3y + list(zip(rim_u, rim_dn_top_3y))
                    + list(zip(rim_u, rim_dn_low_3y)), 0, 'Down'),
        pairs_frame(up_top_1y + up_edge_1y + up_low_1y + list(zip(rim_u, rim_up_top_1y))
                    + list(zip(rim_u, rim_up_low_1y)), 1, 'Up'),
        pairs_frame(dn_top_1y + dn_mid_1y + dn_deep_1y + list(zip(rim_u, rim_dn_top_1y))
                    + list(zip(rim_u, rim_dn_low_1y)), 1, 'Down'),
    ])
    sns.scatterplot(data=dots, x='x', y='y', hue='direction', palette=palette, s=42, linewidth=0,
                    legend=False, ax=ax, zorder=4)
    sparse = pd.concat([pairs_frame(up_sparse_3, 2, 'Up'), pairs_frame(dn_sparse_3, 2, 'Down')])
    sns.scatterplot(data=sparse, x='x', y='y', hue='direction', palette=palette, s=33, linewidth=0,
                    legend=False, ax=ax, zorder=4)

    ax.set_xlim((121 - 335.5) / 416, (1380 - 335.5) / 416)
    ax.set_ylim(-17.24, 23.64)
    ax.set_xticks([])
    ax.set_yticks([-15, -10, -5, 0, 5, 10, 15, 20])
    ax.tick_params(axis='y', left=True, length=5, width=2, labelsize=24, pad=3)
    ax.set_xlabel('')
    ax.set_ylabel('')
    sns.despine(ax=ax, bottom=True)
    ax.spines['left'].set(color='black', linewidth=2.5)
    ax.patch.set_visible(False)

    ov.text(53, 572, 'Log2FoldChange', rotation=90, fontsize=26, ha='center', va='center')
    ov.scatter([1032, 1032], [121, 170], s=(27 * PT) ** 2, c=[RED_DOT, BLUE_DOT], linewidths=0)
    ov.text(1063, 122, 'Up', fontsize=22.5, va='center')
    ov.text(1063, 171, 'Down', fontsize=22.5, va='center')
    for y, label, color in zip([102, 148, 194], contrasts, contrast_colors):
        ov.scatter([1196], [y], s=(30 * PT) ** 2, c=[color], linewidths=0)
        ov.text(1227, y + 1, label, fontsize=22.5, va='center')


def draw_panel_b(fig, ov):
    t0, dx = 1992, 95.4

    # intersection bars
    ax = px_axes(fig, 1947, 143, 2517, 697)
    sns.barplot(x=intersection_ids, y=intersection_sizes, color='#F67F80', saturation=1,
                width=0.67, errorbar=None, ax=ax)
    for i, size in enumerate(intersection_sizes):
        ax.annotate(str(size), (i, size), xytext=(0, 5), textcoords='offset points',
                    ha='center', va='bottom', fontsize=18)
    ax.set_xlim((1947 - t0) / dx, (2517 - t0) / dx)
    ax.set_ylim(-58, 8000)
    ax.set_xticks([])
    ax.set_yticks([0, 2000, 4000, 6000, 8000])
    ax.tick_params(axis='y', left=True, length=8, width=2.8, labelsize=26, pad=2)
    ax.set_xlabel('')
    ax.set_ylabel('')
    sns.despine(ax=ax)
    ax.spines['left'].set(color='black', linewidth=2.8)
    ax.spines['bottom'].set(color='black', linewidth=3.2)
    ov.text(1808, 352, 'Intersection Size', rotation=90, fontsize=25.5, ha='center', va='center')

    # membership matrix
    mx = px_axes(fig, 1945, 702, 2517, 840)
    mx.axhspan(-0.5, 0.5, color='#F7F7F7', linewidth=0, zorder=0)
    mx.axhspan(1.5, 2.5, color='#F7F7F7', linewidth=0, zorder=0)
    grid_x = [i for i in range(6) for _ in range(3)]
    grid_y = [r for _ in range(6) for r in range(3)]
    sns.scatterplot(x=grid_x, y=grid_y, color='#E2E2E2', s=150, linewidth=0, ax=mx, zorder=1)
    for i, rows in enumerate(intersection_rows):
        sns.scatterplot(x=[i] * len(rows), y=rows, color='#333333', s=150, linewidth=0, ax=mx, zorder=2)
        if len(rows) > 1:
            mx.plot([i, i], [min(rows), max(rows)], color='black', linewidth=3.4, zorder=3)
    mx.set_xlim((1945 - t0) / dx, (2517 - t0) / dx)
    mx.set_ylim(2.5, -0.5)
    mx.set_xticks([])
    mx.set_yticks([0, 1, 2])
    mx.set_yticklabels(set_names)
    mx.tick_params(axis='y', left=False, labelsize=21, pad=2)
    for tick in mx.get_yticklabels():
        tick.set_va('center')
    sns.despine(ax=mx, left=True, bottom=True)

    # set size bars
    sx = px_axes(fig, 1602, 702, 1801, 840)
    sns.barplot(y=set_names, x=set_sizes, hue=set_names, palette=set_colors, saturation=1,
                width=0.7, errorbar=None, legend=False, orient='h', ax=sx)
    sx.axvline(10, ymin=0.02, ymax=0.3, color='#777777', linewidth=0.7)
    for i, size in enumerate(set_sizes):
        sx.annotate(str(size), (size, i), xytext=(-3.5, 0), textcoords='offset points',
                    ha='right', va='center', fontsize=21, annotation_clip=False)
    sx.set_xlim(8000, 0)
    sx.set_ylim(2.5, -0.5)
    sx.set_yticks([])
    sx.set_xticks([8000, 6000, 4000, 2000, 0])
    sx.tick_params(axis='x', bottom=True, length=9, width=2.5, labelsize=15, pad=3)
    sx.set_xlabel('')
    sx.set_ylabel('')
    sns.despine(ax=sx, left=True)
    sx.spines['bottom'].set(color='black', linewidth=3.2)
    sx.patch.set_visible(False)
    ov.text(1701, 896, 'Set Size', fontsize=20.5, ha='center', va='center')


def draw_panel_c(fig):
    for left, pid, pval, count, color, prof in zip(profile_left_px, profile_ids, profile_pvals,
                                                   profile_counts, profile_colors, profiles):
        ax = px_axes(fig, left, 1045, left + 326, 1372)
        ax.set_facecolor(color)
        sns.lineplot(x=[0, 1, 2], y=prof, color='black', linewidth=7.2, ax=ax, errorbar=None,
                     sort=False, solid_joinstyle='miter', zorder=2)
        ax.set_xlim(0, 2)
        ax.set_ylim(-2.75, 2.7)
        ax.set_xticks([])
        ax.set_yticks([])
        for side in ax.spines.values():
            side.set(visible=True, color='black', linewidth=3.6)
        ax.text(11 / 326, 1 - 29 / 327, pid, transform=ax.transAxes, fontsize=33, va='center', zorder=3)
        pval_size = 29.5 if '$' in pval else 27
        ax.text(1 - 14 / 326, 1 - 28 / 327, pval, transform=ax.transAxes, fontsize=pval_size, ha='right',
                va='center', zorder=3)
        ax.text(12 / 326, 1 - 303 / 327, count, transform=ax.transAxes, fontsize=27.5, va='center', zorder=3)


def draw_star(ov, text, x, y):
    """Stars and ns are placed on their baseline, so the glyph centre lands on y."""
    if text == 'ns':
        ov.text(x, y + 10, text, fontsize=27, ha='center', va='baseline')
    else:
        ov.text(x, y + 31, text, fontsize=38, ha='center', va='baseline')


def draw_expression(fig, ov, spec, ymax):
    ylim_l, ylim_r = ymax
    t0, t2 = spec['ticks']
    dx = (t2 - t0) / 2
    ax = px_axes(fig, spec['xl'], spec['top'], spec['xr'], spec['zero'])
    ax.patch.set_visible(False)

    sns.barplot(x=stages, y=spec['q'], color=BAR_TEAL, saturation=1, width=spec['barw'] / dx,
                errorbar=None, ax=ax, zorder=1)
    ax.errorbar([0, 1, 2], spec['q'], yerr=spec['e'], fmt='none', ecolor=LINE_TEAL,
                elinewidth=2.2, capsize=3.8, capthick=2.2, zorder=2, clip_on=False)
    sns.lineplot(x=[0, 1, 2], y=spec['q'], color=LINE_TEAL, linewidth=2.4, marker='o', markersize=7,
                 markeredgewidth=0, errorbar=None, sort=False, ax=ax, zorder=3, clip_on=False)

    ax2 = ax.twinx()
    sns.lineplot(x=[0, 1, 2], y=spec['f'], color=LINE_RED, linewidth=2.4, marker='o', markersize=8,
                 markerfacecolor='none', markeredgecolor=LINE_RED, markeredgewidth=1.8,
                 errorbar=None, sort=False, ax=ax2, clip_on=False)

    ax.set_xlim((spec['xl'] - t0) / dx, (spec['xr'] - t0) / dx)
    ax.set_ylim(0, ylim_l)
    ax2.set_ylim(0, ylim_r)
    ax.set_xticks([0, 1, 2])
    ax.set_xticklabels(stages)
    ax.set_yticks([float(t) for t in spec['lticks']])
    ax.set_yticklabels(spec['lticks'])
    ax2.set_yticks(spec['rticks'])
    ax2.set_yticklabels([str(t) for t in spec['rticks']])

    ax.tick_params(axis='y', direction='in', left=True, length=7.5, width=2.4, color=LINE_TEAL,
                   labelsize=24, pad=3)
    pad = (spec['laby'] - 12 - spec['base'] - 10) * PT
    ax.tick_params(axis='x', direction='out', bottom=True, length=7.5, width=2.4, color='black',
                   labelsize=23.5, pad=pad)
    ax2.tick_params(axis='y', direction='in', right=True, length=7.5, width=2.4, color=AXIS_RED,
                    labelsize=24, pad=6)

    for a in (ax, ax2):
        a.set_xlabel('')
        a.set_ylabel('')
        a.spines['top'].set_visible(False)
    ax.spines['right'].set_visible(False)
    ax.spines['left'].set(color=LINE_TEAL, linewidth=2.5)
    ax.spines['bottom'].set(color='black', linewidth=2.6)
    ax.spines['bottom'].set_position(('outward', (spec['base'] - spec['zero']) * PT))
    ax.spines['bottom'].set_bounds((spec['xb'][0] - t0) / dx, (spec['xb'][1] - t0) / dx)
    ax2.spines['left'].set_visible(False)
    ax2.spines['bottom'].set_visible(False)
    ax2.spines['right'].set(color=AXIS_RED, linewidth=2.5)

    ov.text(spec['tx'], spec['ty'], spec['title'], fontsize=28, ha='center', va='center')
    ov.text(spec['rel'][0], spec['rel'][1], 'Relative expression', rotation=90, fontsize=25.5,
            ha='center', va='center')
    ov.text(spec['fp'][0], spec['fp'][1], 'FPKM', rotation=90, fontsize=24.5, ha='center', va='center')
    for x0, x1, y, leg in spec['brackets']:
        ov.plot([x0, x0, x1, x1], [y + leg, y, y, y + leg], color=LINE_TEAL, linewidth=2.5)
    for text, x, y in spec['marks']:
        draw_star(ov, text, x, y)


def main():
    sns.set_theme(style='white')
    plt.rcParams['font.family'] = ['Liberation Sans', 'DejaVu Sans']
    plt.rcParams['mathtext.fontset'] = 'custom'
    plt.rcParams['mathtext.rm'] = 'Liberation Sans'
    plt.rcParams['mathtext.default'] = 'rm'
    plt.rcParams['text.color'] = 'black'
    plt.rcParams['xtick.color'] = 'black'
    plt.rcParams['ytick.color'] = 'black'

    fig = plt.figure(figsize=(W / 100, H / 100), dpi=100)

    ov = fig.add_axes([0, 0, 1, 1], zorder=20)
    ov.set_xlim(0, W)
    ov.set_ylim(H, 0)
    ov.axis('off')
    ov.patch.set_visible(False)

    draw_panel_a(fig, ov)
    draw_panel_b(fig, ov)
    draw_panel_c(fig)
    for spec, ymax in zip(d_panels, d_ymax):
        draw_expression(fig, ov, spec, ymax)

    # legend of panel d
    ov.plot([2375, 2408], [1451, 1451], color=BAR_TEAL, linewidth=12, solid_capstyle='butt')
    ov.plot([2391], [1451], 'o', color=LINE_TEAL, markersize=7, markeredgewidth=0)
    ov.text(2431, 1451, 'RT-qPCR', fontsize=19, va='center')
    ov.plot([2374, 2409], [1493, 1493], color=LINE_RED, linewidth=2.4)
    ov.plot([2391], [1493], 'o', markerfacecolor='white', markeredgecolor=LINE_RED,
            markeredgewidth=1.8, markersize=8)
    ov.text(2431, 1493, 'RNA-seq', fontsize=19, va='center')

    for letter, x, y in [('a', 25, 73), ('b', 1483, 73), ('c', 100, 1079), ('d', 24, 1485)]:
        ov.text(x, y, letter, fontsize=51, va='baseline')

    ov.set_xlim(0, W)
    ov.set_ylim(H, 0)
    fig.savefig('out.png', dpi=100)


if __name__ == '__main__':
    main()
